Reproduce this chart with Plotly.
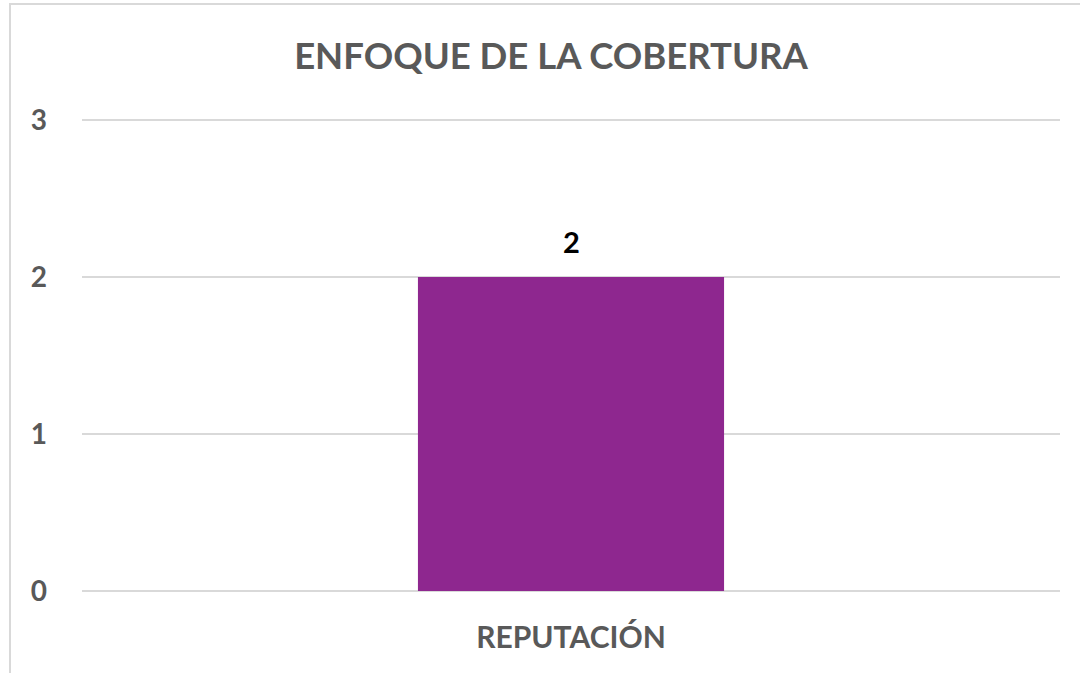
import plotly.graph_objects as go

categories = ["REPUTACIÓN"]
values = [2]
y_ticks = [0, 1, 2, 3]
title_text = "ENFOQUE DE LA COBERTURA"

W, H = 1080, 673
PAD_PX = 3
UNIT_PX = (591 - 120) / 3
pad = PAD_PX / UNIT_PX
L, R, T, B = 82, 20, 120 - PAD_PX, 82 - PAD_PX
pw, ph = W - L - R, H - T - B

fig = go.Figure(go.Bar(
    x=categories, y=values,
    marker=dict(color="#8E278F", line=dict(width=0)),
    hoverinfo="x+y",
))

for c, v in zip(categories, values):
    fig.add_annotation(x=c, y=v, text=f"<b>{v}</b>", showarrow=False,
                       yanchor="bottom", yshift=16,
                       font=dict(family="Lato", size=29, color="#000000"))

fig.update_layout(
    width=W, height=H,
    margin=dict(l=L, r=R, t=T, b=B),
    paper_bgcolor="white", plot_bgcolor="white",
    bargap=0.687,
    showlegend=False,
    title=dict(text=f"<b>{title_text}</b>", x=551 / W, xanchor="center",
               y=1 - 56 / H, yanchor="middle",
               font=dict(family="Lato", size=36.5, color="#595959")),
    xaxis=dict(showgrid=False, showline=False, ticks="",
               ticklabelstandoff=23,
               tickfont=dict(family="Lato", size=30, color="#595959", weight="bold")),
    yaxis=dict(range=[-pad, 3 + pad], tickvals=y_ticks, showgrid=True, gridcolor="#D9D9D9",
               gridwidth=2, zeroline=False, showline=False, ticks="",
               ticklabelstandoff=34,
               tickfont=dict(family="Lato", size=28, color="#595959", weight="bold")),
)

# chart frame
fig.add_shape(type="rect", xref="paper", yref="paper",
              x0=(10 - L) / pw, x1=(1100 - L) / pw,
              y0=(H - B - 700) / ph, y1=(H - B - 4) / ph,
              line=dict(color="#D9D9D9", width=2), fillcolor="rgba(0,0,0,0)", layer="below")

fig.write_html("out.html", config={"displayModeBar": False},
               post_script="document.body.style.margin='0';document.body.style.padding='0';")
